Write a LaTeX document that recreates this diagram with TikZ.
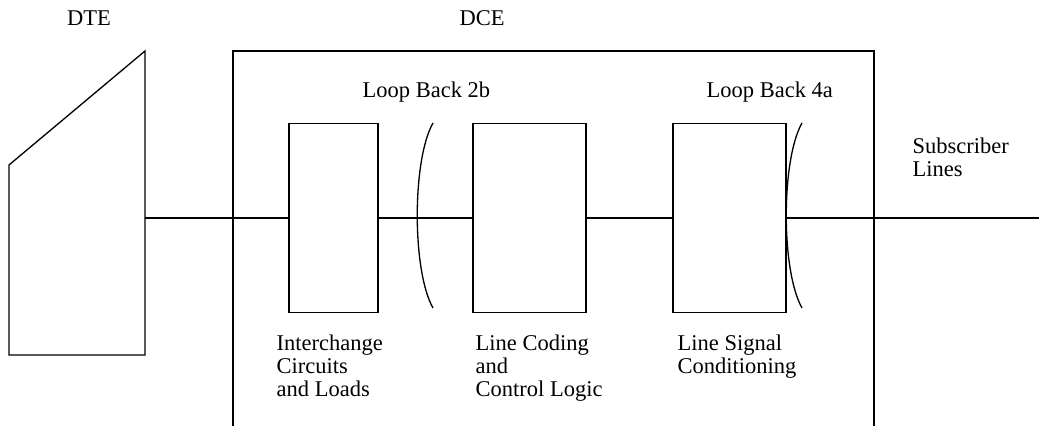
\documentclass[tikz,border=0pt]{standalone}
\usepackage{fontspec}
\setmainfont{Liberation Serif}
\usepackage{tikz}
\tikzset{
  block/.style={rectangle,draw,minimum width=47.47pt,minimum height=100.8pt,inner sep=0pt},
  wideblock/.style={block,minimum width=60.27pt},
  txt/.style={inner sep=0pt,align=left,font=\fontsize{12}{12.4}\selectfont}
}
\begin{document}
\begin{tikzpicture}[x=0.5333pt,y=-0.5333pt,line width=0.7pt]
\useasboundingbox (0,0) rectangle (1039,426);
% DTE terminal
\draw (9,355) -- (9,165) -- (145,51) -- (145,355) -- cycle;
\coordinate (dte) at (145,218);
% DCE box, open at the bottom
\draw (233,426) -- (233,51) -- (874,51) -- (874,426);
\path (333.5,218) node(ic) [block]{};
\path (529.5,218) node(lc) [wideblock]{};
\path (729.5,218) node(ls) [wideblock]{};
\coordinate (sub) at (1039,218);
\draw (dte) -- (ic.west) (ic.east) -- (lc.west) (lc.east) -- (ls.west) (ls.east) -- (sub);
% loop backs
\draw (433,123) .. controls (412,160) and (412,271) .. (433,308);
\draw (802,123) .. controls (781,160) and (781,271) .. (802,308);
% texts (base = last line)
\path (89,26) node[txt,anchor=base]{DTE};
\path (459,26) node[txt,anchor=base west]{DCE};
\path (362,97.7) node[txt,anchor=base west]{Loop Back 2b};
\path (706,97.7) node[txt,anchor=base west]{Loop Back 4a};
\path (276,396.6) node[txt,anchor=base west]{Interchange\\Circuits\\and Loads};
\path (475,396.6) node[txt,anchor=base west]{Line Coding\\and\\Control Logic};
\path (677,373.3) node[txt,anchor=base west]{Line Signal\\Conditioning};
\path (912,176.3) node[txt,anchor=base west]{Subscriber\\Lines};
\end{tikzpicture}
\end{document}
